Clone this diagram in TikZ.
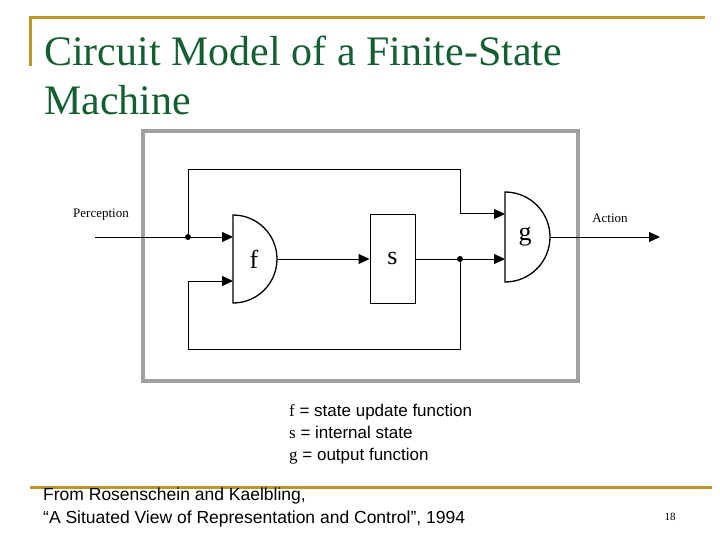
\documentclass[tikz,border=0pt]{standalone}
\usepackage{fontspec}
\usetikzlibrary{arrows.meta}
\setmainfont{Liberation Serif}
\newfontfamily\sansf{Liberation Sans}
\definecolor{titlegreen}{RGB}{20,95,50}
\definecolor{gold}{RGB}{190,150,40}
\definecolor{boxgray}{RGB}{160,160,160}
\begin{document}
\begin{tikzpicture}[x=1pt,y=-1pt,
  wire/.style={line width=1pt},
  arr/.style={wire,-{Triangle[length=11pt,width=10pt]}},
  gate/.style={line width=1.3pt},
  dotn/.style={circle,fill,inner sep=0pt,minimum size=6pt},
  lbl/.style={font=\fontsize{13}{14}\selectfont},
  legtxt/.style={anchor=base west,inner sep=0pt,font=\sansf\fontsize{17}{20}\selectfont},
  reftxt/.style={anchor=base west,inner sep=0pt,font=\sansf\fontsize{17.5}{20}\selectfont}]
\useasboundingbox (0,0) rectangle (720,540);
% frame lines
\draw[gold,line width=3pt] (30,66) -- (30,18) -- (705,18);
\draw[gold,line width=3pt] (30,487) -- (712,487);
\node[anchor=base west,text=titlegreen,font=\fontsize{42}{50}\selectfont,inner sep=0pt] (title1) at (44,66) {Circuit Model of a Finite-State};
\node[anchor=base west,text=titlegreen,font=\fontsize{42}{50}\selectfont,inner sep=0pt] (title2) at (44,115) {Machine};
% grey box
\draw[boxgray,line width=4pt] (143,131) rectangle (578,381);
% gates
\draw[gate] (233,303) -- (233,215) arc (-90:90:44) -- cycle;
\node[font=\fontsize{26}{26}\selectfont] (f) at (254,259) {f};
\coordinate (fin1) at (233,237); \coordinate (fin2) at (233,281); \coordinate (fout) at (277,259);
\node[draw,line width=1pt,minimum width=45pt,minimum height=88pt,inner sep=0pt,font=\fontsize{26}{26}\selectfont] (s) at (392.5,259) {s};
\draw[gate] (505,282) -- (505,192) arc (-90:90:45) -- cycle;
\node[font=\fontsize{26}{26}\selectfont] (g) at (525,237) {g};
\coordinate (gin1) at (505,214); \coordinate (gin2) at (505,259); \coordinate (gout) at (550,237);
% wires
\coordinate (pin) at (95,237);
\node[dotn] (d1) at (188,237) {};
\node[dotn] (d2) at (460,259) {};
\coordinate (aout) at (660,237);
\draw[wire] (pin) -- (d1);
\draw[arr] (d1) -- (fin1);
\draw[arr] (fout) -- (s.west);
\draw[wire] (s.east) -- (d2);
\draw[arr] (d2) -- (gin2);
\draw[arr] (gout) -- (aout);
\draw[arr] (d1) |- (460,170) |- (gin1);
\draw[arr] (d2) |- (188,349) |- (fin2);
\node[lbl,anchor=south] (perc) at (101,224) {Perception};
\node[lbl,anchor=south] (act) at (610,226) {Action};
% legend
\node[legtxt] (leg1) at (289,416) {{\rmfamily f} = state update function};
\node[legtxt] (leg2) at (289,438) {{\rmfamily s} = internal state};
\node[legtxt] (leg3) at (289,460) {{\rmfamily g} = output function};
\node[reftxt] (ref1) at (43,500) {From Rosenschein and Kaelbling,};
\node[reftxt] (ref2) at (43,523) {“A Situated View of Representation and Control”, 1994};
\node[font=\fontsize{11}{12}\selectfont] (pg) at (670,517) {18};
\end{tikzpicture}
\end{document}
